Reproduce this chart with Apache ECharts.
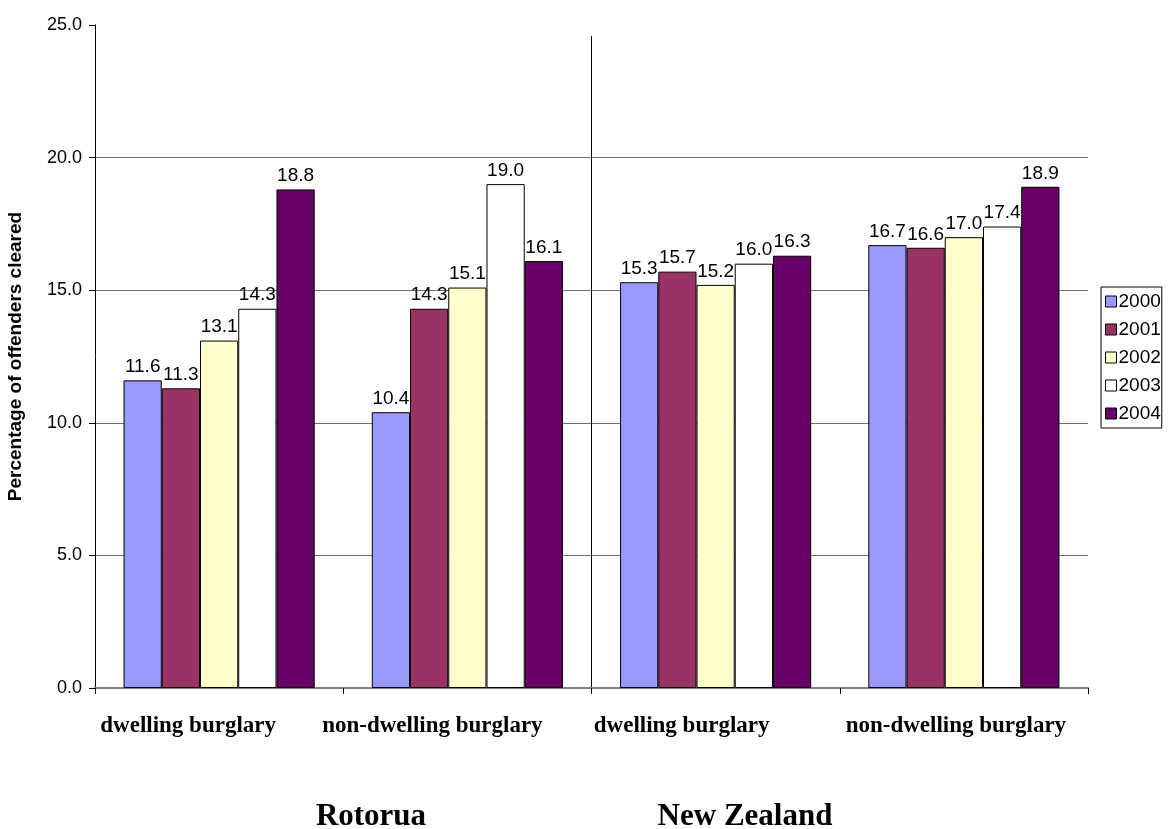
<!DOCTYPE html>
<html>
<head>
<meta charset="utf-8">
<script src="https://cdn.jsdelivr.net/npm/echarts@6/dist/echarts.min.js"></script>
<style>html,body{margin:0;padding:0;background:#fff}#c{width:1170px;height:829px}</style>
</head>
<body>
<div id="c"></div>
<script>
const categories = ['dwelling burglary', 'non-dwelling burglary', 'dwelling burglary', 'non-dwelling burglary'];
const regions = ['Rotorua', 'New Zealand'];
const years = ['2000', '2001', '2002', '2003', '2004'];
const s2000 = [11.6, 10.4, 15.3, 16.7];
const s2001 = [11.3, 14.3, 15.7, 16.6];
const s2002 = [13.1, 15.1, 15.2, 17.0];
const s2003 = [14.3, 19.0, 16.0, 17.4];
const s2004 = [18.8, 16.1, 16.3, 18.9];
const yTicks = [0, 5, 10, 15, 20, 25];

const seriesData = [s2000, s2001, s2002, s2003, s2004];
const colors = ['#9999FF', '#993366', '#FFFFCC', '#FFFFFF', '#660066'];

const chart = echarts.init(document.getElementById('c'), null, {renderer: 'canvas'});
const labelShift = ['s0', 's1', 's2', 's3'];
const catFont = {fontFamily: 'Liberation Serif, Times New Roman, serif', fontWeight: 'bold', fontSize: 23, color: '#000'};
chart.setOption({
  animation: false,
  backgroundColor: '#fff',
  grid: [
    {left: 95, right: 82, top: 25, bottom: 141, containLabel: false, outerBoundsMode: 'none'},
    {left: 95, right: 82, top: 36, bottom: 141, containLabel: false, outerBoundsMode: 'none'}
  ],
  legend: {
    orient: 'vertical', left: 1101, top: 287,
    data: years,
    icon: 'rect',
    borderColor: '#000', borderWidth: 1, borderRadius: 0,
    padding: [5, 1, 5, 4],
    itemWidth: 11, itemHeight: 11, itemGap: 9,
    textStyle: {fontFamily: 'Arial, Liberation Sans', fontSize: 19, color: '#000', padding: [0, 0, 0, -3]},
    itemStyle: {borderColor: '#000', borderWidth: 1}
  },
  xAxis: [{
    type: 'category', data: categories, gridIndex: 0, position: 'bottom',
    axisLine: {lineStyle: {color: '#808080', width: 2}},
    axisTick: {show: true, length: 6, lineStyle: {color: '#000', width: 1}},
    axisLabel: {
      margin: 27,
      formatter: function (v, i) { return '{' + labelShift[i] + '|' + v + '}'; },
      rich: {
        s0: Object.assign({padding: [0, 62, 0, 0]}, catFont),
        s1: Object.assign({padding: [0, 70, 0, 0]}, catFont),
        s2: Object.assign({padding: [0, 68, 0, 0]}, catFont),
        s3: Object.assign({padding: [0, 16, 0, 0]}, catFont)
      }
    },
    splitLine: {show: false}
  }, {
    type: 'category', data: regions, gridIndex: 1, position: 'bottom',
    axisLine: {show: false}, axisTick: {show: false}, axisLabel: {show: false},
    splitLine: {show: true, showMinLine: false, showMaxLine: false, lineStyle: {color: '#000', width: 1}}
  }],
  yAxis: [{
    type: 'value', min: 0, max: 25, interval: 5, gridIndex: 0,
    axisLine: {show: true, lineStyle: {color: '#000', width: 1}},
    axisTick: {show: true, length: 6, lineStyle: {color: '#000'}},
    axisLabel: {
      margin: 13, fontFamily: 'Arial, Liberation Sans', fontSize: 18, color: '#000',
      formatter: function (v) { return yTicks.indexOf(v) >= 0 ? v.toFixed(1) : ''; }
    },
    splitLine: {show: true, showMaxLine: false, lineStyle: {color: '#6e6e6e', width: 1}},
    name: 'Percentage of offenders cleared',
    nameLocation: 'middle', nameGap: 70, nameRotate: 90,
    nameTextStyle: {fontFamily: 'Arial, Liberation Sans', fontWeight: 'bold', fontSize: 19, color: '#000'}
  }, {
    type: 'value', min: 0, max: 25, gridIndex: 1, show: false
  }],
  series: years.map(function (y, i) {
    return {
      name: y, type: 'bar', xAxisIndex: 0, yAxisIndex: 0,
      data: seriesData[i],
      barGap: '0%', barCategoryGap: '23%',
      itemStyle: {color: colors[i], borderColor: '#000', borderWidth: 1},
      label: {
        show: true, position: 'top', distance: 4,
        fontFamily: 'Arial, Liberation Sans', fontSize: 19, color: '#000',
        formatter: function (p) { return p.value.toFixed(1); }
      }
    };
  }),
  graphic: [
    {type: 'text', x: 371, y: 817, style: {text: regions[0], align: 'center', verticalAlign: 'middle', font: 'bold 31px "Liberation Serif", "Times New Roman", serif', fill: '#000'}},
    {type: 'text', x: 745, y: 817, style: {text: regions[1], align: 'center', verticalAlign: 'middle', font: 'bold 31px "Liberation Serif", "Times New Roman", serif', fill: '#000'}}
  ]
});
</script>
</body>
</html>
